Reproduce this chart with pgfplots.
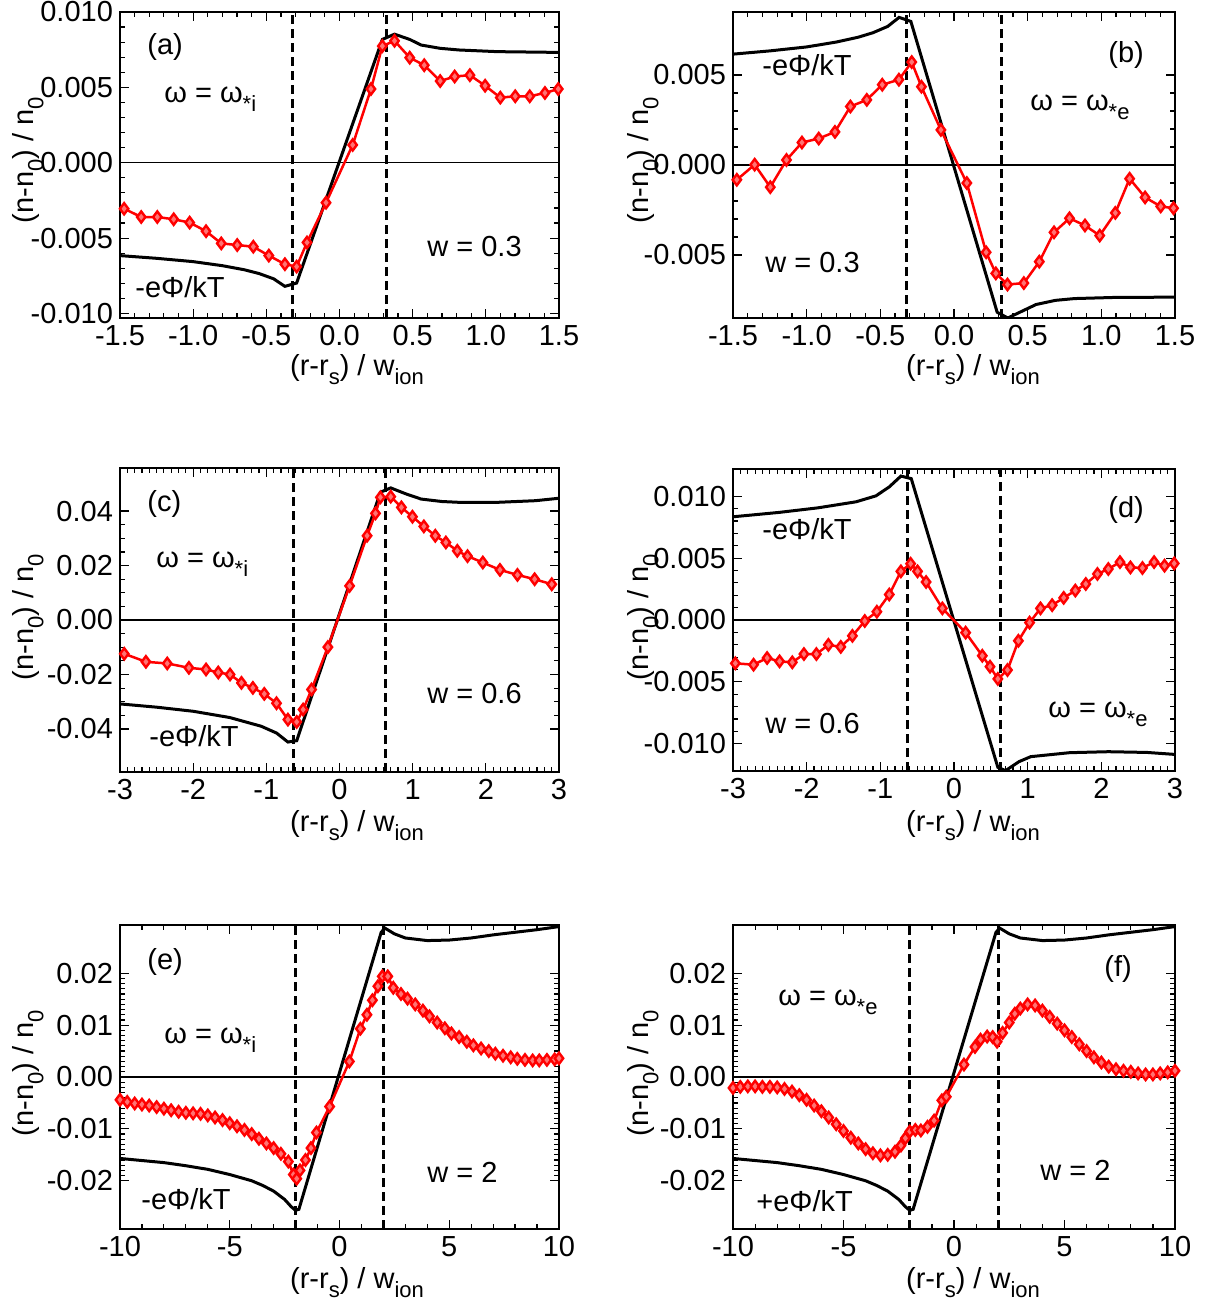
\documentclass[border=0pt]{standalone}
\usepackage{fontspec}
\setmainfont{Liberation Sans}
\usepackage{pgfplots}
\pgfplotsset{compat=1.18}
\newcommand\fs{\fontsize{14.5}{17}\selectfont}
\newcommand\sbs[1]{\raisebox{-0.34em}{\fontsize{11}{11}\selectfont #1}}
\pgfplotsset{
  pp/.style={scale only axis, anchor=south west,
    axis line style={line width=0.7pt},
    tick align=inside, tick style={line width=0.6pt, black},
    major tick length=4.5pt, minor tick length=2.4pt,
    tick label style={font=\fs},
    /pgf/number format/assume math mode=true,
    scaled ticks=false},
  blk/.style={black, line width=1.5pt, no markers},
  rd/.style={color=red, line width=1.25pt, mark=diamond*, mark size=2.8pt, mark options={solid, line width=1.2pt, draw=red, fill=red!55!white}},
  zl/.style={black, line width=0.7pt, no markers},
  dl/.style={black, line width=1.4pt, no markers, dash pattern=on 4.5pt off 2.5pt},
  xa/.style={xmin=-1.5, xmax=1.5, xtick={-1.5,-1,-0.5,0,0.5,1,1.5}, minor x tick num=4,
     xticklabel style={/pgf/number format/.cd, fixed, fixed zerofill, precision=1}},
  xc/.style={xmin=-3, xmax=3, xtick={-3,-2,-1,0,1,2,3}, minor x tick num=9},
  xe/.style={xmin=-10, xmax=10, xtick={-10,-5,0,5,10}, minor x tick num=4},
}
\begin{document}
\begin{tikzpicture}
\path[use as bounding box] (0,0) rectangle (605.5pt,-651pt);

% (a)
\begin{axis}[pp, xa, at={(60pt,-159pt)}, width=219.5pt, height=153pt,
  ymin=-0.0103, ymax=0.0100, ytick={-0.01,-0.005,0,0.005,0.01}, minor y tick num=4,
  yticklabel style={/pgf/number format/.cd, fixed, fixed zerofill, precision=3}]
\addplot[zl] coordinates {(-1.5,0) (1.5,0)};
\addplot[dl] coordinates {(-0.32,-0.0103) (-0.32,0.0100)};
\addplot[dl] coordinates {(0.32,-0.0103) (0.32,0.0100)};
\addplot[blk] coordinates {(-1.5,-0.00616) (-1.25,-0.00634) (-1.0,-0.00656) (-0.8,-0.00683) (-0.65,-0.00710) (-0.55,-0.00735) (-0.45,-0.00770) (-0.373,-0.0082) (-0.293,-0.00798) (0.293,0.00818) (0.376,0.00853) (0.48,0.00818) (0.557,0.00781) (0.688,0.00759) (0.818,0.00748) (1.078,0.00737) (1.5,0.00732)};
\addplot[rd] coordinates {(-1.472,-0.00305) (-1.355,-0.0036) (-1.245,-0.0036) (-1.133,-0.00375) (-1.024,-0.00397) (-0.912,-0.00454) (-0.808,-0.00535) (-0.699,-0.00546) (-0.589,-0.00557) (-0.483,-0.00616) (-0.373,-0.00673) (-0.293,-0.00689) (-0.222,-0.00529) (-0.092,-0.00265) (0.090,0.00118) (0.215,0.00489) (0.293,0.00774) (0.376,0.00809) (0.480,0.00697) (0.579,0.00647) (0.688,0.00542) (0.787,0.00572) (0.891,0.00581) (0.995,0.00511) (1.099,0.00432) (1.201,0.00441) (1.300,0.00441) (1.404,0.00463) (1.495,0.00489)};
\end{axis}

% (b)
\begin{axis}[pp, xa, at={(366.5pt,-159pt)}, width=221pt, height=153pt,
  ymin=-0.0085, ymax=0.0085, ytick={-0.005,0,0.005}, minor y tick num=4,
  yticklabel style={/pgf/number format/.cd, fixed, fixed zerofill, precision=3}]
\addplot[zl] coordinates {(-1.5,0) (1.5,0)};
\addplot[dl] coordinates {(-0.32,-0.0085) (-0.32,0.0085)};
\addplot[dl] coordinates {(0.32,-0.0085) (0.32,0.0085)};
\addplot[blk] coordinates {(-1.5,0.00616) (-1.25,0.00634) (-1.0,0.00656) (-0.8,0.00683) (-0.65,0.00710) (-0.55,0.00735) (-0.45,0.00770) (-0.373,0.0082) (-0.293,0.00798) (0.293,-0.00818) (0.365,-0.0085) (0.48,-0.00805) (0.557,-0.00775) (0.688,-0.00752) (0.818,-0.00742) (1.078,-0.00736) (1.5,-0.00734)};
\addplot[rd] coordinates {(-1.474,-0.00082) (-1.353,0.00002) (-1.247,-0.00123) (-1.137,0.00028) (-1.032,0.00125) (-0.918,0.00147) (-0.808,0.00184) (-0.703,0.00325) (-0.592,0.00362) (-0.487,0.00446) (-0.374,0.00474) (-0.287,0.00572) (-0.221,0.00435) (-0.089,0.00195) (0.087,-0.00100) (0.218,-0.00485) (0.284,-0.00602) (0.363,-0.00664) (0.474,-0.00656) (0.579,-0.00537) (0.679,-0.00374) (0.784,-0.00296) (0.889,-0.00336) (0.989,-0.00392) (1.095,-0.00266) (1.192,-0.00076) (1.297,-0.00180) (1.403,-0.00230) (1.49,-0.00240)};
\end{axis}

% (c)
\begin{axis}[pp, xc, at={(60pt,-386pt)}, width=219.5pt, height=152pt,
  ymin=-0.0558, ymax=0.0558, ytick={-0.04,-0.02,0,0.02,0.04}, minor y tick num=3,
  yticklabel style={/pgf/number format/.cd, fixed, fixed zerofill, precision=2}]
\addplot[zl] coordinates {(-3,0) (3,0)};
\addplot[dl] coordinates {(-0.63,-0.0558) (-0.63,0.0558)};
\addplot[dl] coordinates {(0.63,-0.0558) (0.63,0.0558)};
\addplot[blk] coordinates {(-3,-0.0308) (-2.5,-0.0320) (-2.0,-0.0335) (-1.5,-0.0358) (-1.07,-0.0390) (-0.86,-0.0415) (-0.705,-0.0448) (-0.585,-0.0443) (0.559,0.0469) (0.70,0.0485) (0.908,0.0463) (1.116,0.0444) (1.4,0.0435) (1.636,0.0432) (2.157,0.0432) (2.677,0.0438) (3.0,0.0447)};
\addplot[rd] coordinates {(-2.942,-0.0124) (-2.646,-0.01534) (-2.354,-0.01595) (-2.058,-0.01755) (-1.824,-0.01816) (-1.657,-0.01926) (-1.496,-0.0200) (-1.340,-0.02307) (-1.184,-0.02491) (-1.028,-0.02712) (-0.861,-0.03055) (-0.705,-0.03656) (-0.585,-0.03742) (-0.497,-0.03288) (-0.382,-0.02552) (-0.159,-0.00994) (0.138,0.01252) (0.377,0.03092) (0.492,0.03914) (0.559,0.04503) (0.700,0.04528) (0.846,0.04135) (0.997,0.03791) (1.153,0.03436) (1.309,0.03092) (1.454,0.02847) (1.610,0.0254) (1.750,0.02344) (1.959,0.0211) (2.193,0.0184) (2.432,0.01656) (2.667,0.01497) (2.901,0.01313)};
\end{axis}

% (d)
\begin{axis}[pp, xc, at={(366.5pt,-385.5pt)}, width=221pt, height=151pt,
  ymin=-0.0122, ymax=0.0122, ytick={-0.01,-0.005,0,0.005,0.01}, minor y tick num=4,
  yticklabel style={/pgf/number format/.cd, fixed, fixed zerofill, precision=3}]
\addplot[zl] coordinates {(-3,0) (3,0)};
\addplot[dl] coordinates {(-0.63,-0.0122) (-0.63,0.0122)};
\addplot[dl] coordinates {(0.63,-0.0122) (0.63,0.0122)};
\addplot[blk] coordinates {(-3,0.00834) (-2.38,0.00869) (-1.85,0.00906) (-1.33,0.00955) (-1.06,0.01003) (-0.88,0.01075) (-0.72,0.01163) (-0.58,0.01142) (0.595,-0.0119) (0.70,-0.01217) (0.884,-0.01144) (1.042,-0.01104) (1.568,-0.01072) (2.095,-0.01064) (2.621,-0.0107) (3.0,-0.01086)};
\addplot[rd] coordinates {(-2.968,-0.0035) (-2.721,-0.00361) (-2.537,-0.00307) (-2.368,-0.00334) (-2.195,-0.00342) (-2.037,-0.00275) (-1.868,-0.00275) (-1.705,-0.00201) (-1.537,-0.00217) (-1.379,-0.00128) (-1.211,-0.00008) (-1.047,0.00067) (-0.879,0.00206) (-0.721,0.00393) (-0.589,0.00455) (-0.495,0.00393) (-0.379,0.00307) (-0.158,0.00094) (0.158,-0.00102) (0.384,-0.00289) (0.489,-0.00377) (0.595,-0.00476) (0.726,-0.00404) (0.874,-0.00168) (1.026,-0.00021) (1.174,0.00094) (1.332,0.0012) (1.489,0.00179) (1.647,0.00238) (1.789,0.00291) (1.947,0.00372) (2.095,0.00412) (2.253,0.00468) (2.395,0.00425) (2.558,0.0042) (2.716,0.00468) (2.858,0.00439) (2.989,0.00457)};
\end{axis}

% (e)
\begin{axis}[pp, xe, at={(60pt,-614.5pt)}, width=219.5pt, height=152pt,
  ymin=-0.0293, ymax=0.0293, ytick={-0.02,-0.01,0,0.01,0.02}, minor y tick num=9,
  yticklabel style={/pgf/number format/.cd, fixed, fixed zerofill, precision=2}]
\addplot[zl] coordinates {(-10,0) (10,0)};
\addplot[dl] coordinates {(-2,-0.0293) (-2,0.0293)};
\addplot[dl] coordinates {(2,-0.0293) (2,0.0293)};
\addplot[blk] coordinates {(-10,-0.0157) (-9,-0.0161) (-8,-0.0165) (-7,-0.0171) (-6,-0.0178) (-5,-0.0188) (-4,-0.0200) (-3.5,-0.0209) (-3,-0.0220) (-2.5,-0.0236) (-2.2,-0.0250) (-2.0,-0.0257) (-1.85,-0.0255) (1.9,0.0279) (2.07,0.0287) (2.5,0.0276) (3,0.0268) (4,0.0263) (5,0.0264) (6,0.0268) (7,0.0274) (8,0.0279) (9,0.0284) (10,0.0290)};
\addplot[rd] coordinates {(-10.0,-0.0044) (-9.67,-0.0048) (-9.33,-0.0051) (-9.0,-0.0053) (-8.67,-0.0055) (-8.33,-0.0058) (-8.0,-0.0061) (-7.67,-0.0064) (-7.33,-0.0067) (-7.0,-0.0069) (-6.67,-0.0070) (-6.33,-0.0071) (-6.0,-0.0074) (-5.67,-0.0078) (-5.33,-0.0083) (-5.0,-0.0089) (-4.67,-0.0095) (-4.33,-0.0102) (-4.0,-0.0110) (-3.67,-0.0119) (-3.33,-0.0128) (-3.0,-0.0137) (-2.67,-0.0148) (-2.33,-0.0163) (-2.1,-0.0188) (-1.95,-0.0196) (-1.8,-0.0180) (-1.55,-0.0160) (-1.3,-0.0137) (-1.05,-0.0107) (-0.45,-0.0057) (0.45,0.0030) (0.95,0.0093) (1.25,0.0120) (1.5,0.0148) (1.75,0.0175) (1.95,0.0194) (2.2,0.0194) (2.45,0.0172) (2.8,0.0160) (3.1,0.0151) (3.45,0.0140) (3.8,0.0128) (4.1,0.0117) (4.45,0.0105) (4.8,0.0094) (5.1,0.0084) (5.45,0.0077) (5.8,0.0068) (6.1,0.0061) (6.45,0.0055) (6.8,0.0050) (7.1,0.0045) (7.45,0.0041) (7.8,0.0038) (8.1,0.0035) (8.45,0.0033) (8.8,0.0032) (9.1,0.0032) (9.45,0.0033) (9.8,0.0034) (10.0,0.0036)};
\end{axis}

% (f)
\begin{axis}[pp, xe, at={(366.5pt,-614.5pt)}, width=221pt, height=152pt,
  ymin=-0.0293, ymax=0.0293, ytick={-0.02,-0.01,0,0.01,0.02}, minor y tick num=9,
  yticklabel style={/pgf/number format/.cd, fixed, fixed zerofill, precision=2}]
\addplot[zl] coordinates {(-10,0) (10,0)};
\addplot[dl] coordinates {(-2,-0.0293) (-2,0.0293)};
\addplot[dl] coordinates {(2,-0.0293) (2,0.0293)};
\addplot[blk] coordinates {(-10,-0.0157) (-9,-0.0161) (-8,-0.0165) (-7,-0.0171) (-6,-0.0178) (-5,-0.0188) (-4,-0.0200) (-3.5,-0.0209) (-3,-0.0220) (-2.5,-0.0236) (-2.2,-0.0250) (-2.0,-0.0257) (-1.85,-0.0255) (1.9,0.0279) (2.07,0.0287) (2.5,0.0276) (3,0.0268) (4,0.0263) (5,0.0264) (6,0.0268) (7,0.0274) (8,0.0279) (9,0.0284) (10,0.0290)};
\addplot[rd] coordinates {(-10.0,-0.0021) (-9.67,-0.0019) (-9.33,-0.0018) (-9.0,-0.0018) (-8.67,-0.0019) (-8.33,-0.0019) (-8.0,-0.0020) (-7.67,-0.0023) (-7.33,-0.0028) (-7.0,-0.0035) (-6.67,-0.0044) (-6.33,-0.0055) (-6.0,-0.0066) (-5.67,-0.0078) (-5.33,-0.0091) (-5.0,-0.0104) (-4.67,-0.0117) (-4.33,-0.0128) (-4.0,-0.0139) (-3.67,-0.0147) (-3.33,-0.0151) (-3.0,-0.0150) (-2.67,-0.0144) (-2.4,-0.0132) (-2.2,-0.0118) (-2.0,-0.0105) (-1.75,-0.0102) (-1.5,-0.0103) (-1.2,-0.0096) (-0.9,-0.0084) (-0.55,-0.0045) (-0.35,-0.0038) (0.45,0.0024) (0.95,0.0058) (1.2,0.0072) (1.5,0.0078) (1.75,0.0077) (1.95,0.0068) (2.2,0.0085) (2.5,0.0105) (2.75,0.0122) (3.0,0.0132) (3.33,0.0140) (3.67,0.0138) (4.0,0.0128) (4.33,0.0116) (4.67,0.0103) (5.0,0.0090) (5.33,0.0077) (5.67,0.0063) (6.0,0.0050) (6.33,0.0038) (6.67,0.0028) (7.0,0.0020) (7.33,0.0015) (7.67,0.0012) (8.0,0.0010) (8.33,0.0007) (8.67,0.0005) (9.0,0.0005) (9.33,0.0007) (9.67,0.0009) (10.0,0.0012)};
\end{axis}

\begin{scope}[x=0.5pt, y=-0.5pt, every node/.style={font=\fs, inner sep=0pt}]
% y labels
\foreach \xx/\yy in {28/160, 643/160, 28/617, 643/617, 28/1073, 643/1073}
  \node[rotate=90] at (\xx,\yy) {(n-n\sbs{0}) / n\sbs{0}};
% x labels
\foreach \xx/\yy in {357/375, 973/375, 357/831, 973/831, 357/1288, 973/1288}
  \node[anchor=base] at (\xx,\yy) {(r-r\sbs{s}) / w\sbs{ion}};
% (a)
\node[anchor=base west] at (147,54) {(a)};
\node[anchor=base west] at (164,102) {ω = ω\sbs{*i}};
\node[anchor=base west] at (427,256) {w = 0.3};
\node[anchor=base west] at (135,297) {-eΦ/kT};
% (b)
\node[anchor=base west] at (1108,62) {(b)};
\node[anchor=base west] at (762,75) {-eΦ/kT};
\node[anchor=base west] at (1030,110) {ω = ω\sbs{*e}};
\node[anchor=base west] at (765,272) {w = 0.3};
% (c)
\node[anchor=base west] at (147,511) {(c)};
\node[anchor=base west] at (156,567) {ω = ω\sbs{*i}};
\node[anchor=base west] at (427,703) {w = 0.6};
\node[anchor=base west] at (149,746) {-eΦ/kT};
% (d)
\node[anchor=base west] at (1108,517) {(d)};
\node[anchor=base west] at (762,539) {-eΦ/kT};
\node[anchor=base west] at (1048,717) {ω = ω\sbs{*e}};
\node[anchor=base west] at (765,733) {w = 0.6};
% (e)
\node[anchor=base west] at (147,969) {(e)};
\node[anchor=base west] at (164,1043) {ω = ω\sbs{*i}};
\node[anchor=base west] at (427,1182) {w = 2};
\node[anchor=base west] at (141,1209) {-eΦ/kT};
% (f)
\node[anchor=base west] at (1104,976) {(f)};
\node[anchor=base west] at (778,1005) {ω = ω\sbs{*e}};
\node[anchor=base west] at (1040,1180) {w = 2};
\node[anchor=base west] at (756,1211) {+eΦ/kT};
\end{scope}
\end{tikzpicture}
\end{document}
